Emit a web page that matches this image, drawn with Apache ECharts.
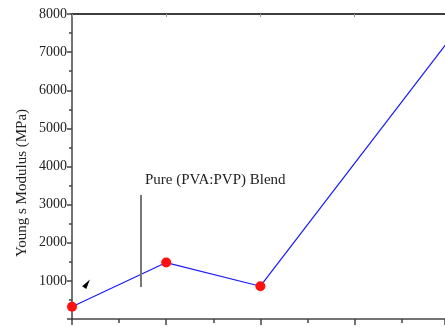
<!DOCTYPE html>
<html>
<head>
<meta charset="utf-8">
<script src="https://cdn.jsdelivr.net/npm/echarts@6/dist/echarts.min.js"></script>
<style>
  html, body { margin: 0; padding: 0; background: #fff; }
  #chart { width: 445px; height: 327px; }
</style>
</head>
<body>
<div id="chart"></div>
<script>
// sample positions along x and Young's modulus
const xValues = [0, 1, 2, 4]
const modulus = [320, 1480, 860, 7300]
const yTicks = { min: 0, max: 8000, step: 1000 }

// annotation: vertical marker and label
const markerX = 0.73
const markerRange = [3250, 840]
const arrowPos = [0.16, 930]

const chart = echarts.init(document.getElementById('chart'))

const serif = 'Liberation Serif, Times New Roman, serif'

const option = {
  animation: false,
  grid: { left: 72, right: 0, top: 14, bottom: 8 },
  xAxis: [
    {
      type: 'value',
      min: 0,
      max: 3.96,
      interval: 1,
      axisLine: { lineStyle: { color: '#444', width: 1.5 } },
      axisTick: { length: 6, lineStyle: { color: '#444', width: 1.5 } },
      minorTick: { show: true, splitNumber: 2, length: 4, lineStyle: { color: '#444', width: 1.5 } },
      axisLabel: { show: false },
      splitLine: { show: false }
    },
    {
      type: 'value',
      position: 'top',
      min: 0,
      max: 3.96,
      interval: 1,
      axisLine: { onZero: false, lineStyle: { color: '#000', width: 1.5 } },
      axisTick: { inside: true, length: 3, lineStyle: { color: '#999' } },
      axisLabel: { show: false },
      splitLine: { show: false }
    }
  ],
  yAxis: {
    type: 'value',
    min: yTicks.min,
    max: yTicks.max,
    interval: yTicks.step,
    axisLine: { show: true, lineStyle: { color: '#444', width: 1.5 } },
    axisTick: { length: 5, lineStyle: { color: '#444', width: 1.5 } },
    minorTick: { show: true, splitNumber: 2, length: 3, lineStyle: { color: '#444', width: 1.5 } },
    axisLabel: {
      fontFamily: serif, fontSize: 14, color: '#222', margin: 5,
      formatter: v => (v === 0 ? '' : String(v))
    },
    splitLine: { show: false }
  },
  series: [
    {
      type: 'line',
      data: xValues.map((x, i) => [x, modulus[i]]),
      lineStyle: { color: '#1a1aff', width: 1.2 },
      symbol: 'circle',
      symbolSize: 10,
      itemStyle: { color: '#ff1010' },
      clip: true,
      markLine: {
        silent: true,
        symbol: 'none',
        label: { show: false },
        lineStyle: { color: '#777', width: 2, type: 'solid' },
        data: [[{ coord: [markerX, markerRange[0]] }, { coord: [markerX, markerRange[1]] }]]
      },
      markPoint: {
        silent: true,
        data: [{
          coord: arrowPos,
          symbol: 'triangle',
          symbolSize: [5, 10],
          symbolRotate: -35,
          itemStyle: { color: '#000' },
          label: { show: false }
        }]
      }
    }
  ],
  graphic: [
    {
      type: 'text',
      left: 145,
      top: 173,
      style: { text: 'Pure (PVA:PVP) Blend', fontFamily: serif, fontSize: 15, fill: '#222' }
    },
    {
      type: 'text',
      x: 22,
      y: 183,
      rotation: Math.PI / 2,
      style: {
        text: 'Young s Modulus (MPa)', fontFamily: serif, fontSize: 15, fill: '#222',
        align: 'center', verticalAlign: 'middle'
      }
    }
  ]
}

chart.setOption(option)
</script>
</body>
</html>
